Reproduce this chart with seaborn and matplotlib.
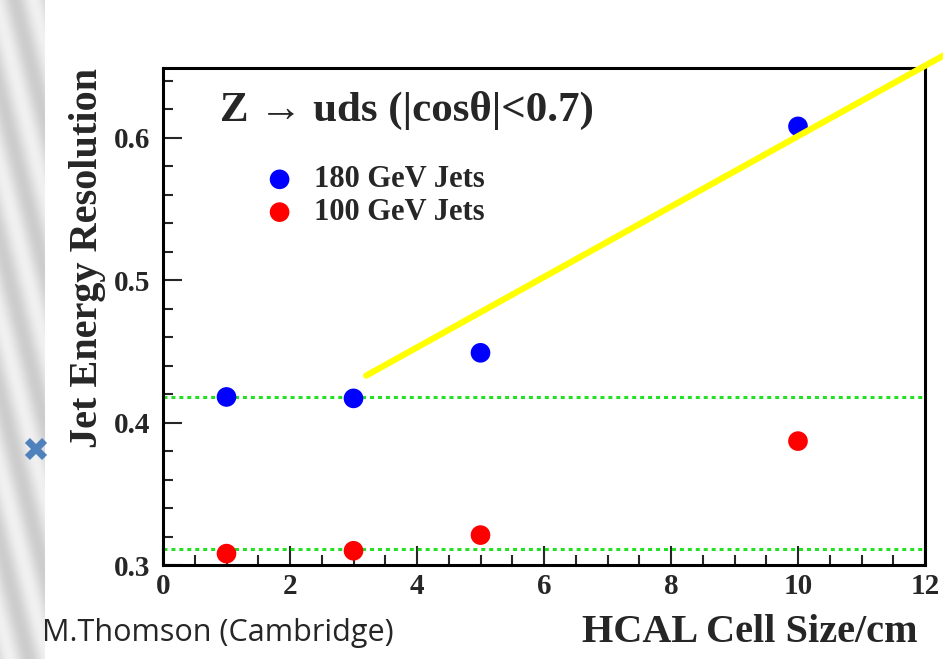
import numpy as np
import matplotlib
matplotlib.use("Agg")
import matplotlib.pyplot as plt
import seaborn as sns
import pandas as pd
from matplotlib.ticker import MultipleLocator

# ---- data ----
cell_size = [1, 3, 5, 10]
res_180 = [0.418, 0.417, 0.449, 0.608]
res_100 = [0.308, 0.310, 0.321, 0.387]
err_180 = [0.004, 0.004, 0.004, 0.004]
err_100 = [0.004, 0.004, 0.004, 0.004]
ref_levels = [0.418, 0.311]
trend_x = [3.2, 12.3]
trend_y = [0.433, 0.658]
x_ticks = [0, 2, 4, 6, 8, 10, 12]
y_ticks = [0.3, 0.4, 0.5, 0.6]
labels = ["180 GeV Jets", "100 GeV Jets"]

sns.set_style("ticks")
serif = ["Liberation Serif", "DejaVu Serif"]

W, H = 943, 659
fig = plt.figure(figsize=(W / 100, H / 100), dpi=100)
fig.patch.set_facecolor("white")

# slide decoration: striped grey strip on the left
bg = fig.add_axes([0, 0, 45 / W, 1])
yy, xx = np.mgrid[0:H, 0:45]
pattern = 0.87 + 0.07 * np.sin((xx * 1.0 + yy * 0.25) / 6.0)
bg.imshow(pattern, cmap="gray", vmin=0, vmax=1, aspect="auto",
          extent=[0, 45, 0, H], origin="lower")
bg.axis("off")

# main axes
ax = fig.add_axes([163 / W, (H - 565) / H, (925 - 163) / W, (565 - 68) / H])
ax.set_xlim(0, 12)
ax.set_ylim(0.3, 0.649)

df = pd.DataFrame({
    "cell": cell_size * 2,
    "res": res_180 + res_100,
    "energy": [labels[0]] * 4 + [labels[1]] * 4,
})

for lvl in ref_levels:
    ax.axhline(lvl, color="#22e022", lw=2.2, ls=(0, (1.3, 1.3)), zorder=1)

ax.errorbar(cell_size, res_180, yerr=err_180, fmt="none", ecolor="blue",
            elinewidth=1.2, zorder=2)
ax.errorbar(cell_size, res_100, yerr=err_100, fmt="none", ecolor="red",
            elinewidth=1.2, zorder=2)
sns.scatterplot(data=df, x="cell", y="res", hue="energy",
                palette={labels[0]: "#0000ff", labels[1]: "#ff0000"},
                s=200, edgecolor="none", ax=ax, legend=False, zorder=3)

# yellow trend line extending beyond the frame
sns.lineplot(x=trend_x, y=trend_y, color="#ffff00", lw=4.5, ax=ax, zorder=5)
ax.lines[-1].set_clip_on(False)

# axes styling (ROOT-like)
for side in ["left", "right", "top", "bottom"]:
    ax.spines[side].set_visible(True)
    ax.spines[side].set_linewidth(2.2)
    ax.spines[side].set_color("black")
ax.set_xticks(x_ticks)
ax.set_yticks(y_ticks)
ax.xaxis.set_minor_locator(MultipleLocator(0.5))
ax.yaxis.set_minor_locator(MultipleLocator(0.02))
ax.tick_params(which="both", direction="in", top=False, right=False, width=1.5)
ax.tick_params(which="major", length=14)
ax.tick_params(which="minor", length=7)
ax.tick_params(axis="y", pad=9)
ax.tick_params(axis="x", pad=6)
ax.set_xticklabels([str(v) for v in x_ticks], fontsize=21, fontweight="bold",
                   family=serif)
ax.set_yticklabels([f"{v:.1f}" for v in y_ticks], fontsize=21,
                   fontweight="bold", family=serif)
ax.set_xlabel("HCAL Cell Size/cm", fontsize=29, fontweight="bold",
              family=serif, loc="right", labelpad=10)
ax.xaxis.get_label().set_x(0.99)
ax.set_ylabel("Jet Energy Resolution", fontsize=29, fontweight="bold",
              family=serif, loc="top", labelpad=6)

# annotation / legend
ax.text(0.075, 0.915, "Z \u2192 uds (|cos\u03b8|<0.7)", transform=ax.transAxes,
        fontsize=31, fontweight="bold", family=serif, va="center", ha="left")
leg_x = 0.153
for i, (lab, col) in enumerate(zip(labels, ["#0000ff", "#ff0000"])):
    yfrac = 0.776 - i * 0.066
    ax.scatter([leg_x], [yfrac], transform=ax.transAxes, s=200, color=col,
               edgecolor="none", clip_on=False, zorder=4)
    ax.text(leg_x + 0.045, yfrac, lab, transform=ax.transAxes, fontsize=22,
            fontweight="bold", family=serif, va="center", ha="left")

# slide decorations: bullet cross and credit text
fig.text(35 / W, 1 - 452 / H, "\u2716", color="#4f81bd", fontsize=24,
         ha="center", va="center", family=["DejaVu Sans"])
fig.text(42 / W, 1 - 633 / H, "M.Thomson (Cambridge)", fontsize=22,
         family=["Open Sans", "DejaVu Sans"], ha="left", va="center")

fig.savefig("out.png", dpi=100)
